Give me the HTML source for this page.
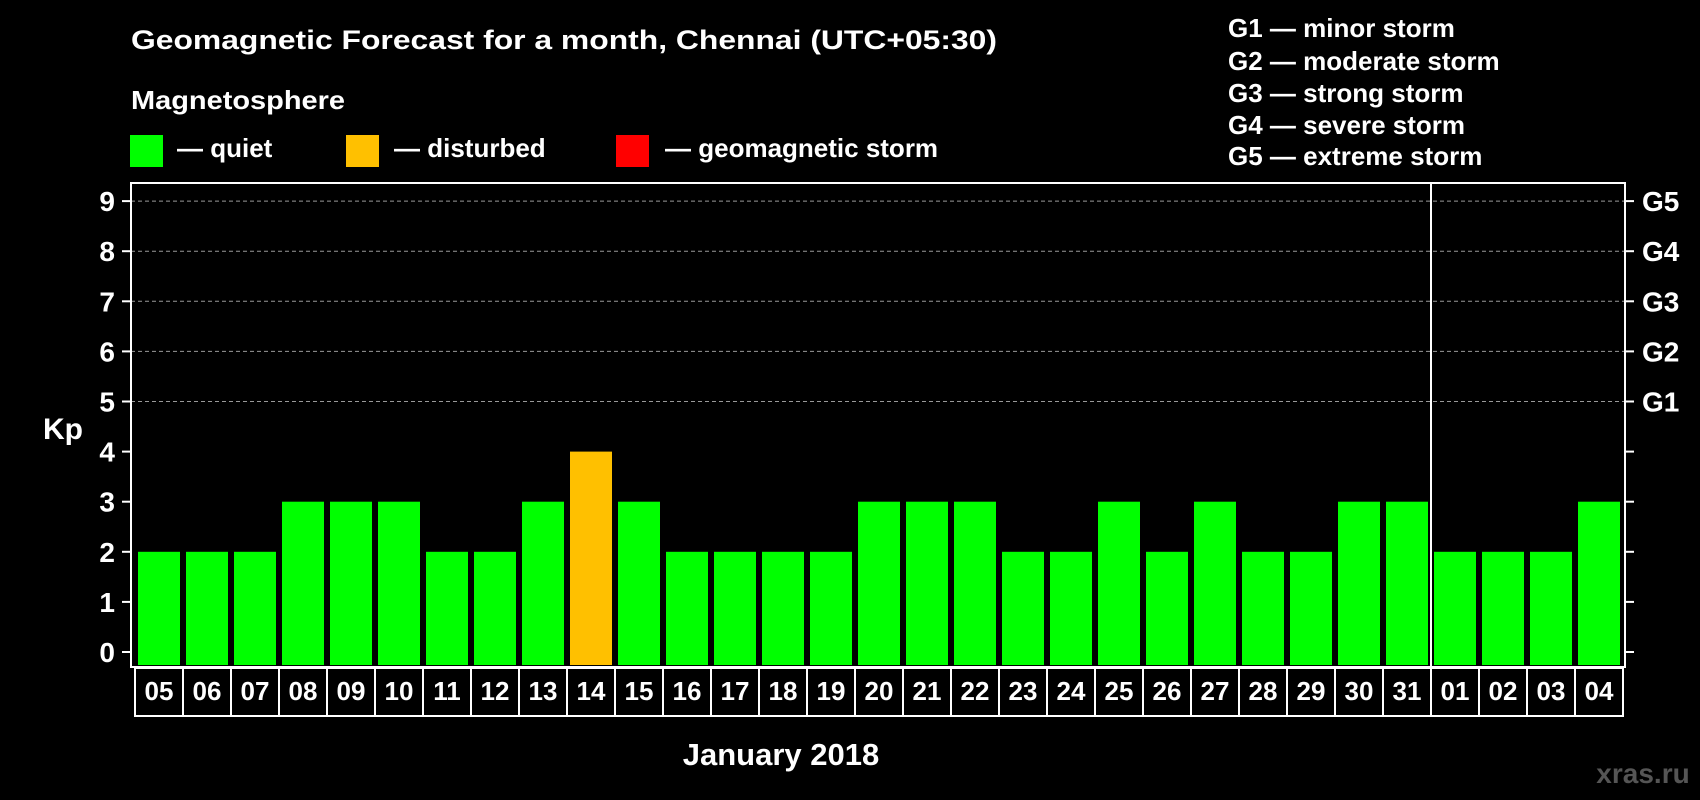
<!DOCTYPE html>
<html><head><meta charset="utf-8"><style>
html,body{margin:0;padding:0;background:#000;width:1700px;height:800px;overflow:hidden}
svg{display:block;font-family:"Liberation Sans",sans-serif;font-weight:bold}
</style></head><body>
<svg id="c" width="1700" height="800" viewBox="0 0 1700 800">
<text x="131" y="49" font-size="27" fill="#fff" textLength="866" lengthAdjust="spacingAndGlyphs">Geomagnetic Forecast for a month, Chennai (UTC+05:30)</text>
<text x="131" y="109" font-size="26" fill="#fff" textLength="214" lengthAdjust="spacingAndGlyphs">Magnetosphere</text>
<rect x="130" y="135" width="33" height="32" fill="#00ff00"/>
<text x="177" y="157" font-size="26" fill="#fff">— quiet</text>
<rect x="346" y="135" width="33" height="32" fill="#ffc000"/>
<text x="394" y="157" font-size="26" fill="#fff">— disturbed</text>
<rect x="616" y="135" width="33" height="32" fill="#ff0000"/>
<text x="665" y="157" font-size="26" fill="#fff">— geomagnetic storm</text>
<g font-size="26" fill="#fff">
<text x="1228" y="37">G1 — minor storm</text>
<text x="1228" y="70">G2 — moderate storm</text>
<text x="1228" y="102">G3 — strong storm</text>
<text x="1228" y="134">G4 — severe storm</text>
<text x="1228" y="165">G5 — extreme storm</text>
</g>
<text x="63" y="439" font-size="30" fill="#fff" text-anchor="middle">Kp</text>
<text x="781" y="765" font-size="31" fill="#fff" text-anchor="middle">January 2018</text>
<text x="1643" y="783" font-size="28" fill="#555" text-anchor="middle">xras.ru</text>
</svg>
<script>
const days=["05","06","07","08","09","10","11","12","13","14","15","16","17","18","19","20","21","22","23","24","25","26","27","28","29","30","31","01","02","03","04"];
const kpValues=[2,2,2,3,3,3,2,2,3,4,3,2,2,2,2,3,3,3,2,2,3,2,3,2,2,3,3,2,2,2,3];
const yTicks=[0,1,2,3,4,5,6,7,8,9];
const gLabels=["G1","G2","G3","G4","G5"];
const gLevels=[5,6,7,8,9];
const monthBreakIndex=27;
const NS="http://www.w3.org/2000/svg";
const svg=document.getElementById('c');
const L=131,R=1625,T=183,B=667,X0=138,STEP=48,BW=42;
const y=v=>652-v*50.1;
const x=i=>X0+i*STEP;
function mk(tag,attrs){const e=document.createElementNS(NS,tag);for(const k in attrs)e.setAttribute(k,attrs[k]);svg.appendChild(e);return e;}
gLevels.forEach(v=>{const g=mk('line',{x1:L,x2:R,y1:y(v),y2:y(v),stroke:'#999','stroke-width':1,'stroke-dasharray':'4,3'});

});
kpValues.forEach((v,i)=>{const col=v>=5?'#ff0000':(v>=4?'#ffc000':'#00ff00');
const r=mk('rect',{x:x(i),y:y(v),width:BW,height:(B-2)-y(v),fill:col});


const b=mk('rect',{x:x(i)-3,y:B+1,width:STEP,height:48,fill:'none',stroke:'#fff','stroke-width':2});


const t=mk('text',{x:x(i)+BW/2,y:700,'font-size':26,fill:'#fff','text-anchor':'middle'});t.textContent=days[i];

});
const f=mk('rect',{x:L,y:T,width:R-L,height:B-T,fill:'none',stroke:'#fff','stroke-width':2});


const sep=mk('line',{x1:x(monthBreakIndex)-3,x2:x(monthBreakIndex)-3,y1:T,y2:B,stroke:'#fff','stroke-width':2});


yTicks.forEach(v=>{const a=mk('line',{x1:L-9,x2:L,y1:y(v),y2:y(v),stroke:'#fff','stroke-width':2});


const b=mk('line',{x1:R,x2:R+9,y1:y(v),y2:y(v),stroke:'#fff','stroke-width':2});


const t=mk('text',{x:115,y:y(v)+10,'font-size':28,fill:'#fff','text-anchor':'end'});t.textContent=v;

});
gLabels.forEach((g,i)=>{const t=mk('text',{x:1642,y:y(gLevels[i])+10,'font-size':28,fill:'#fff'});t.textContent=g;

});
</script>
</body></html>
